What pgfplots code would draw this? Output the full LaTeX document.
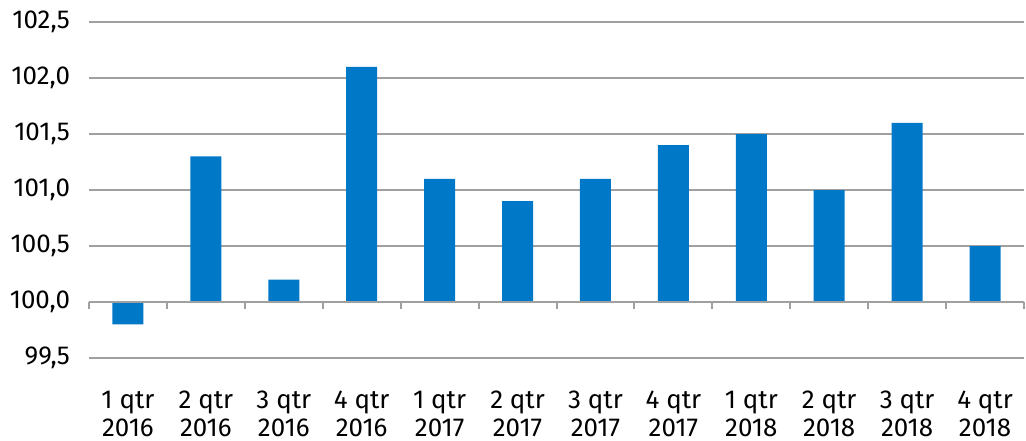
\documentclass[border=0pt]{standalone}
\usepackage{pgfplots}
\pgfplotsset{compat=1.18}
\usepackage{fontspec}
\setmainfont{Fira Sans}
\definecolor{barblue}{RGB}{0,120,200}
\definecolor{gridgray}{RGB}{160,160,160}
\begin{document}
\begin{tikzpicture}
\begin{axis}[
  scale only axis, width=467.5bp, height=168bp,
  xmin=-0.5, xmax=11.5, ymin=99.5, ymax=102.5,
  y coord trafo/.code={\pgfmathparse{#1-100}},
  y coord inv trafo/.code={\pgfmathparse{#1+100}},
  ytick={99.5,100,100.5,101,101.5,102,102.5},
  yticklabels={{99,5},{100,0},{100,5},{101,0},{101,5},{102,0},{102,5}},
  xtick={0,...,11},
  xticklabels={{1 qtr\\2016},{2 qtr\\2016},{3 qtr\\2016},{4 qtr\\2016},
               {1 qtr\\2017},{2 qtr\\2017},{3 qtr\\2017},{4 qtr\\2017},
               {1 qtr\\2018},{2 qtr\\2018},{3 qtr\\2018},{4 qtr\\2018}},
  xticklabel style={align=center, font=\fontsize{13}{14}\selectfont, yshift=-13bp},
  yticklabel style={font=\fontsize{13}{14}\selectfont, xshift=-6bp},
  xtick style={draw=none}, ytick style={draw=none},
  axis line style={draw=none},
  ymajorgrids, grid style={gridgray, line width=1bp},
  clip=false,
]
\addplot[ybar, bar width=15.5bp, bar shift=0pt, fill=barblue, draw=none]
  coordinates {(0,99.8) (1,101.3) (2,100.2) (3,102.1) (4,101.1) (5,100.9)
               (6,101.1) (7,101.4) (8,101.5) (9,101.0) (10,101.6) (11,100.5)};
\addplot[gridgray, line width=1bp, mark=none] coordinates {(-0.5,100) (11.5,100)};
\addplot[ycomb, gridgray, line width=1bp, mark=none]
  coordinates {(-0.5,99.9375) (0.5,99.9375) (1.5,99.9375) (2.5,99.9375) (3.5,99.9375)
               (4.5,99.9375) (5.5,99.9375) (6.5,99.9375) (7.5,99.9375) (8.5,99.9375)
               (9.5,99.9375) (10.5,99.9375) (11.5,99.9375)};
\coordinate (bl) at (rel axis cs:0,0);
\coordinate (tr) at (rel axis cs:1,1);
\end{axis}
\pgfresetboundingbox
\path ([shift={(-44.5bp,-41.5bp)}]bl) rectangle ([shift={(1bp,11bp)}]tr);
\end{tikzpicture}
\end{document}
